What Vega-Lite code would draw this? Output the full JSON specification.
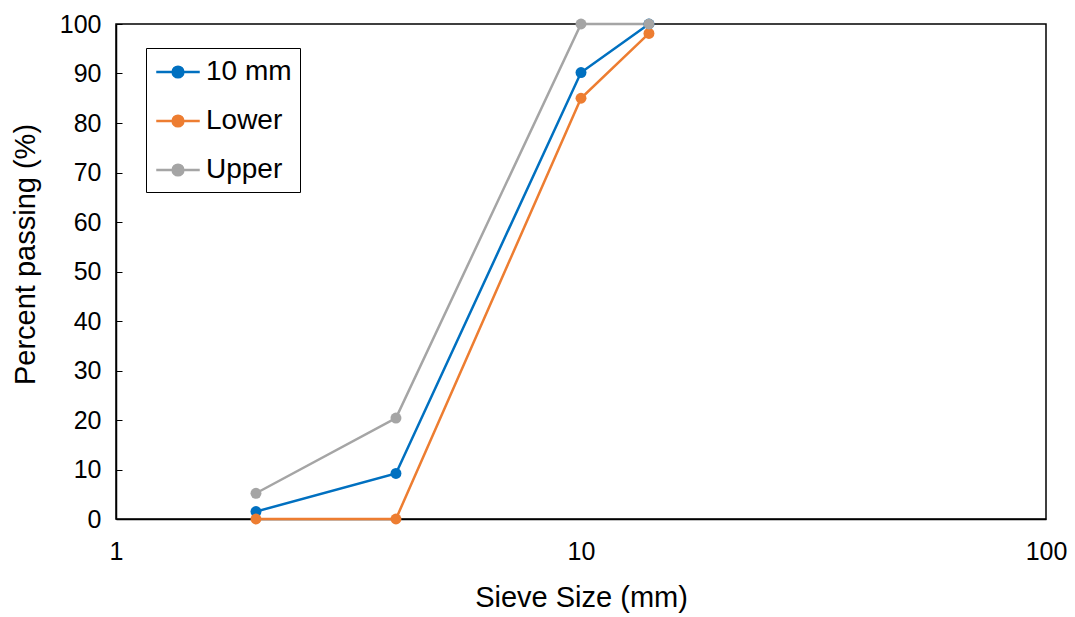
{
  "$schema": "https://vega.github.io/schema/vega-lite/v6.json",
  "autosize": "none",
  "width": 930,
  "height": 495,
  "padding": {"left": 116, "top": 24, "right": 29, "bottom": 98},
  "background": "white",
  "config": {
    "view": {"stroke": "black", "strokeWidth": 1.5},
    "axis": {"grid": false, "domainColor": "black", "domainWidth": 1.5, "tickColor": "black", "labelColor": "black", "titleColor": "black", "titleFontWeight": "normal", "labelFont": "Liberation Sans", "labelFontSize": 25, "titleFont": "Liberation Sans", "titleFontSize": 29}
  },
  "data": {
    "values": [
      {"series": "10 mm", "size": 2, "pct": 1.5},
      {"series": "10 mm", "size": 4, "pct": 9.2},
      {"series": "10 mm", "size": 10, "pct": 90.2},
      {"series": "10 mm", "size": 14, "pct": 100},
      {"series": "Lower", "size": 2, "pct": 0},
      {"series": "Lower", "size": 4, "pct": 0},
      {"series": "Lower", "size": 10, "pct": 85},
      {"series": "Lower", "size": 14, "pct": 98.1},
      {"series": "Upper", "size": 2, "pct": 5.2},
      {"series": "Upper", "size": 4, "pct": 20.4},
      {"series": "Upper", "size": 10, "pct": 100},
      {"series": "Upper", "size": 14, "pct": 100}
    ]
  },
  "encoding": {
    "x": {"field": "size", "type": "quantitative", "scale": {"type": "log", "domain": [1, 100], "nice": false}, "axis": {"title": "Sieve Size (mm)", "values": [1, 10, 100], "format": "~s", "tickSize": 0, "labelPadding": 20, "titlePadding": 19, "labelFlush": false}},
    "y": {"field": "pct", "type": "quantitative", "scale": {"domain": [0, 100], "nice": false}, "axis": {"title": "Percent passing (%)", "values": [0,10,20,30,40,50,60,70,80,90,100], "tickSize": -6, "labelPadding": 21, "titleX": -91, "titleY": 230, "titleBaseline": "middle", "titleAngle": -90}},
    "color": {"field": "series", "type": "nominal", "scale": {"domain": ["10 mm", "Lower", "Upper"], "range": ["#0070C0", "#ED7D31", "#A5A5A5"]},
      "legend": {"title": null, "orient": "none", "legendX": 30, "legendY": 24, "strokeColor": "black", "fillColor": "white", "padding": 8, "labelFont": "Liberation Sans", "labelFontSize": 28, "labelColor": "black", "labelOffset": 12, "symbolOffset": 8, "rowPadding": 19, "symbolType": "M-1.5,0L1.5,0M0.37,0A0.37,0.37,0,1,1,-0.37,0A0.37,0.37,0,1,1,0.37,0Z", "symbolSize": 841, "symbolStrokeWidth": 2.5,
        "encode": {"symbols": {"update": {"fill": {"scale": "color", "field": "value"}, "stroke": {"scale": "color", "field": "value"}, "fillOpacity": {"value": 1}, "opacity": {"value": 1}}}}}}
  },
  "layer": [
    {"mark": {"type": "line", "strokeWidth": 2.5}},
    {"mark": {"type": "point", "filled": true, "opacity": 1, "size": 120}}
  ]
}
